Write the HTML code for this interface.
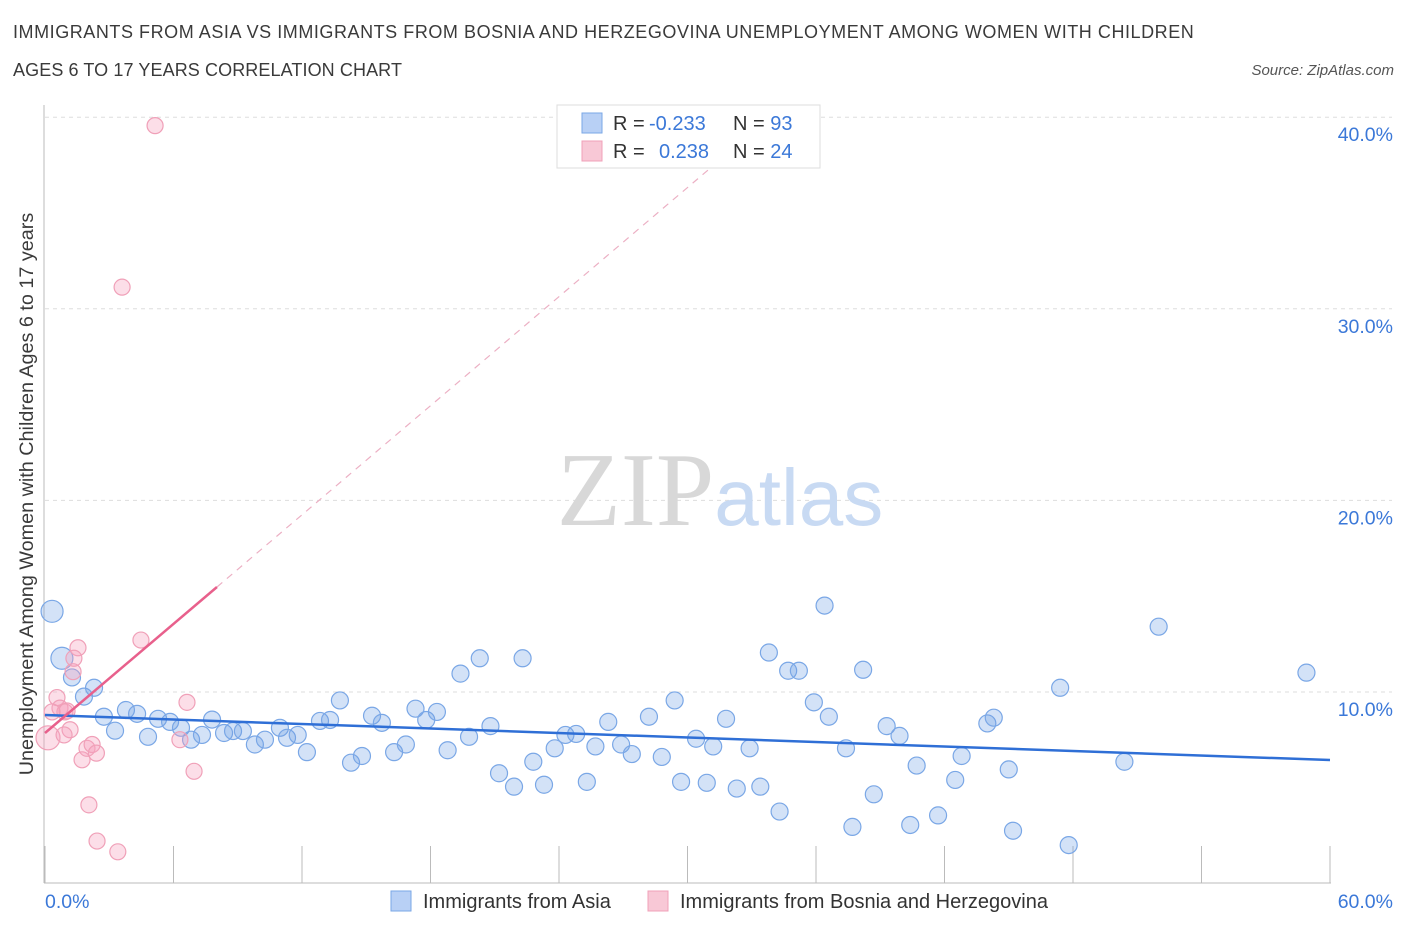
<!DOCTYPE html>
<html><head><meta charset="utf-8"><style>
body{margin:0;background:#fff;font-family:"Liberation Sans",sans-serif}
#wrap{position:relative;width:1406px;height:930px;overflow:hidden}
.t{position:absolute;color:#3a3a3a;font-size:18px;letter-spacing:0.5px}
</style></head><body>
<div id="wrap">
<div class="t" style="left:13px;top:22px;letter-spacing:0.55px">IMMIGRANTS FROM ASIA VS IMMIGRANTS FROM BOSNIA AND HERZEGOVINA UNEMPLOYMENT AMONG WOMEN WITH CHILDREN</div>
<div class="t" style="left:13px;top:60px;letter-spacing:0.1px">AGES 6 TO 17 YEARS CORRELATION CHART</div>
<div class="t" style="right:12px;top:62px;font-size:15px;letter-spacing:0;font-style:italic;color:#555">Source: ZipAtlas.com</div>
<svg id="svg" width="1406" height="930" style="position:absolute;left:0;top:0"></svg>
</div>
<script>
const xTicks=[0,60];
const yTicks=[10,20,30,40];
const asiaX=[0.33,0.79,1.26,1.82,2.29,2.75,3.27,3.78,4.30,4.81,5.28,5.84,6.35,6.82,7.33,7.8,8.36,8.78,9.24,9.8,10.27,10.97,11.3,11.8,12.23,12.84,13.31,13.77,14.29,14.8,15.27,15.73,16.3,16.85,17.3,17.8,18.3,18.8,19.4,19.8,20.3,20.8,21.2,21.9,22.3,22.8,23.3,23.8,24.3,24.8,25.3,25.7,26.3,26.9,27.4,28.2,28.8,29.4,29.7,30.4,30.9,31.2,31.8,32.3,32.9,33.4,33.8,34.3,34.7,35.2,35.9,36.4,36.6,37.4,37.7,38.2,38.7,39.3,39.9,40.4,40.7,41.7,42.5,42.8,44.0,44.3,45.0,45.2,47.4,47.8,50.4,52.0,58.9];
const asiaY=[14.21,11.76,10.76,9.76,10.22,8.71,7.98,9.06,8.86,7.66,8.6,8.44,8.13,7.51,7.76,8.56,7.86,7.96,7.96,7.26,7.51,8.13,7.61,7.76,6.86,8.49,8.54,9.56,6.31,6.66,8.76,8.39,6.86,7.26,9.13,8.54,8.96,6.96,10.96,7.66,11.76,8.22,5.76,5.06,11.76,6.36,5.16,7.06,7.76,7.81,5.31,7.16,8.44,7.26,6.76,8.71,6.61,9.56,5.31,7.56,5.26,7.16,8.6,4.96,7.06,5.06,12.06,3.76,11.11,11.11,9.46,14.51,8.71,7.06,2.96,11.16,4.66,8.22,7.71,3.06,6.16,3.56,5.41,6.66,8.36,8.66,5.96,2.76,10.22,2.01,6.36,13.41,11.01];
const bosX=[5.14,3.6,0.14,0.56,0.7,0.93,1.17,0.89,1.31,1.54,1.35,1.03,1.73,1.96,2.2,2.4,2.05,2.43,3.4,4.48,6.3,6.63,6.96,0.33];
const bosY=[39.56,31.13,7.61,9.71,9.16,8.96,8.03,7.76,11.06,12.31,11.76,9.01,6.46,7.06,7.26,6.81,4.11,2.22,1.66,12.71,7.51,9.46,5.86,8.96];
const asiaLine=[8.8,6.45];
const bosLine=[7.86,64.8];
const X=v=>45+v*1285/60, Y=v=>883.6-v*19.16;
const s=document.getElementById('svg'),NS='http://www.w3.org/2000/svg';
function mk(t,a,p){const e=document.createElementNS(NS,t);for(const k in a)e.setAttribute(k,a[k]);(p||s).appendChild(e);return e;}
for(const v of yTicks){const g=mk('line',{x1:45,x2:1392,y1:Y(v),y2:Y(v),stroke:'#ddd','stroke-dasharray':'4,4'});

const t=mk('text',{x:1393,y:Y(v)+24,'text-anchor':'end','font-size':19.5,fill:'#3b78d8'});t.textContent=v.toFixed(1)+'%';
}
const ax=mk('line',{x1:44,x2:44,y1:105,y2:883,stroke:'#bbb'});
const bx=mk('line',{x1:44,x2:1331,y1:883,y2:883,stroke:'#bbb'});
for(let i=0;i<=10;i++){const tk=mk('line',{x1:X(i*6),x2:X(i*6),y1:846,y2:883,stroke:'#bbb'});}
xTicks.forEach((v,i)=>{const t=mk('text',{x:i?1393:45,y:908,'text-anchor':i?'end':'start','font-size':19.5,fill:'#3b78d8'});t.textContent=v.toFixed(1)+'%';
});
const wm=mk('text',{x:720,y:525,'text-anchor':'middle','font-size':105});wm.innerHTML='<tspan fill="#d8d8d8" font-family="Liberation Serif">ZIP</tspan><tspan fill="#c8daf3" font-size="80">atlas</tspan>';

const yl=mk('text',{transform:'translate(33,494) rotate(-90)','text-anchor':'middle','font-size':19.8,fill:'#3a3a3a'});yl.textContent='Unemployment Among Women with Children Ages 6 to 17 years';

asiaX.forEach((x,i)=>{const c=mk('circle',{cx:X(x),cy:Y(asiaY[i]),r:i<2?11:8.5,fill:'rgba(110,160,230,0.3)',stroke:'#7aa7e6','stroke-width':1.2});
});
bosX.forEach((x,i)=>{const c=mk('circle',{cx:X(x),cy:Y(bosY[i]),r:i==2?12:8,fill:'rgba(245,160,190,0.35)',stroke:'#f0a0b8','stroke-width':1.2});
});
const la=mk('line',{x1:X(0),y1:Y(asiaLine[0]),x2:X(60),y2:Y(asiaLine[1]),stroke:'#2f6fd6','stroke-width':2.5});

const slope=(bosLine[1]-bosLine[0])/60;
const lb=mk('line',{x1:X(0),y1:Y(bosLine[0]),x2:X(8.03),y2:Y(bosLine[0]+slope*8.03),stroke:'#e8608c','stroke-width':2.5});

const ld=mk('line',{x1:X(8.03),y1:Y(bosLine[0]+slope*8.03),x2:X(32.5),y2:Y(bosLine[0]+slope*32.5),stroke:'#ecb0c4','stroke-width':1.2,'stroke-dasharray':'7,6'});

const lg=mk('g',{});
mk('rect',{x:557,y:105,width:263,height:63,fill:'#fff',stroke:'#ddd'},lg);
[['#b8d0f5','#7aa7e6','-0.233','93',123],['#f8c8d6','#f0a0b8','0.238','24',151]].forEach((r,i)=>{
mk('rect',{x:582,y:r[4]-10,width:20,height:20,fill:r[0],stroke:r[1]},lg);
const t=mk('text',{x:613,y:r[4]+7,'font-size':20,fill:'#333'},lg);
t.innerHTML='R = <tspan fill="#3b78d8" x="'+(i?659:649)+'">'+r[2]+'</tspan><tspan x="733">N = </tspan><tspan fill="#3b78d8">'+r[3]+'</tspan>';});
const bl=mk('g',{});
mk('rect',{x:391,y:891,width:20,height:20,fill:'#b8d0f5',stroke:'#7aa7e6'},bl);
let t1=mk('text',{x:423,y:908,'font-size':20,fill:'#333'},bl);t1.textContent='Immigrants from Asia';
mk('rect',{x:648,y:891,width:20,height:20,fill:'#f8c8d6',stroke:'#f0a0b8'},bl);
let t2=mk('text',{x:680,y:908,'font-size':20,fill:'#333'},bl);t2.textContent='Immigrants from Bosnia and Herzegovina';
</script>
</body></html>
